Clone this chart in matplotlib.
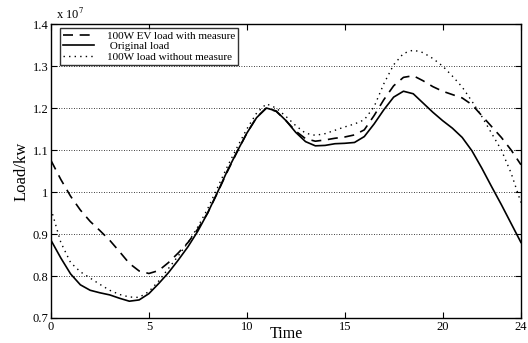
import numpy as np
import matplotlib.pyplot as plt

plt.rcParams['font.family'] = ['Liberation Serif', 'DejaVu Serif']
plt.rcParams['mathtext.fontset'] = 'stix'

# time axis (hours) and loads (x 1e7 kW)
hours = [0, 0.5, 1, 1.5, 2, 2.5, 3, 3.5, 4, 4.5, 5, 5.5, 6, 6.5, 7, 7.5, 8, 8.5, 9, 9.5,
         10, 10.5, 11, 11.5, 12, 12.5, 13, 13.5, 14, 14.5, 15, 15.5, 16, 16.5, 17, 17.5,
         18, 18.5, 19, 19.5, 20, 20.5, 21, 21.5, 22, 22.5, 23, 23.5, 24]

ev_with_measure = [1.075, 1.03, 0.99, 0.957, 0.93, 0.908, 0.885, 0.858, 0.83, 0.812, 0.806, 0.813,
                   0.832, 0.855, 0.88, 0.912, 0.95, 0.998, 1.048, 1.095, 1.14, 1.178, 1.20, 1.192,
                   1.17, 1.145, 1.127, 1.121, 1.124, 1.128, 1.131, 1.136, 1.148, 1.182, 1.22, 1.253,
                   1.273, 1.277, 1.265, 1.251, 1.24, 1.232, 1.224, 1.208, 1.182, 1.156, 1.13, 1.1, 1.065]

original = [0.885, 0.843, 0.805, 0.779, 0.766, 0.76, 0.755, 0.747, 0.74, 0.743, 0.758, 0.782,
            0.808, 0.838, 0.87, 0.907, 0.95, 0.999, 1.05, 1.096, 1.14, 1.177, 1.20, 1.193,
            1.17, 1.142, 1.12, 1.11, 1.111, 1.115, 1.116, 1.118, 1.132, 1.162, 1.196, 1.226,
            1.24, 1.234, 1.212, 1.19, 1.17, 1.152, 1.13, 1.098, 1.057, 1.013, 0.97, 0.925, 0.88]

no_measure = [0.96, 0.88, 0.832, 0.81, 0.795, 0.78, 0.766, 0.756, 0.75, 0.749, 0.763, 0.788,
              0.818, 0.848, 0.88, 0.917, 0.96, 1.01, 1.06, 1.106, 1.15, 1.188, 1.21, 1.2,
              1.18, 1.158, 1.14, 1.135, 1.139, 1.147, 1.155, 1.162, 1.172, 1.203, 1.258, 1.303,
              1.33, 1.338, 1.332, 1.318, 1.30, 1.276, 1.25, 1.216, 1.18, 1.14, 1.10, 1.045, 0.975]

fig = plt.figure(figsize=(5.28, 3.43), dpi=100)
ax = fig.add_axes([0.0966, 0.0729, 0.89, 0.857])

ax.plot(hours, ev_with_measure, color='black', linestyle=(0, (6, 4)), linewidth=1.2,
        label='100W EV load with measure')
ax.plot(hours, original, color='black', linestyle='-', linewidth=1.2, label=' Original load')
ax.plot(hours, no_measure, color='black', linestyle=(0, (1, 3)), linewidth=1.0,
        label='100W load without measure')

ax.set_xlim(0, 24)
ax.set_ylim(0.7, 1.4)
ax.set_xticks([0, 5, 10, 15, 20, 24])
ax.set_yticks([0.7, 0.8, 0.9, 1.0, 1.1, 1.2, 1.3, 1.4])
ax.set_yticklabels(['0.7', '0.8', '0.9', '1', '1.1', '1.2', '1.3', '1.4'])
ax.yaxis.grid(True, linestyle=(0, (1, 2)), color='black', linewidth=0.6)
ax.tick_params(direction='in', top=True, right=True, labelsize=9, length=4, pad=2)
for s in ax.spines.values():
    s.set_linewidth(1.0)

ax.set_xlabel('Time', fontsize=11.5, va='baseline')
ax.xaxis.set_label_coords(0.5, -0.068)
ax.set_ylabel('Load/kw', fontsize=12, labelpad=2)
ax.text(0.01, 1.008, r'x 10$^7$', transform=ax.transAxes, fontsize=9, ha='left', va='bottom')

leg = ax.legend(loc='upper left', bbox_to_anchor=(0.019, 0.987), borderaxespad=0,
                fontsize=8, frameon=True, fancybox=False, edgecolor='black',
                handlelength=2.8, handletextpad=1.1, labelspacing=0.05, borderpad=0.3)
leg.get_frame().set_linewidth(1.0)

fig.savefig('out.png', dpi=100)
